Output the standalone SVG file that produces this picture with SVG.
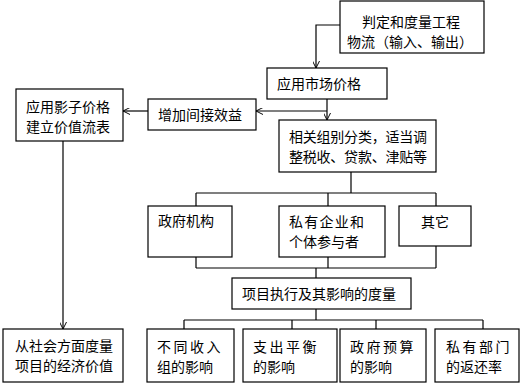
<svg xmlns="http://www.w3.org/2000/svg" width="525" height="387" viewBox="0 0 525 387">
<style>
.box{fill:#fff;stroke:#000;stroke-width:1.2}
.t{font-family:"Noto Sans CJK SC","Liberation Sans",sans-serif;font-size:14px;fill:#000}
.sp{letter-spacing:2.5px}
.ln{fill:none;stroke:#000;stroke-width:1.2}
</style>
<defs>
<marker id="arr" viewBox="0 0 10 10" refX="10" refY="5" markerWidth="7" markerHeight="7" markerUnits="userSpaceOnUse" orient="auto">
<path d="M0,0 L10,5 L0,10" fill="none" stroke="#000" stroke-width="1.4"/>
</marker>
</defs>
<rect width="525" height="387" fill="#fff"/>
<g id="connectors" class="ln">
<path d="M340,25 H316 V68" marker-end="url(#arr)"/>
<path d="M327,99 V120" marker-end="url(#arr)"/>
<path d="M327,111 H256" marker-end="url(#arr)"/>
<path d="M148,111 H123" marker-end="url(#arr)"/>
<path d="M63,141 V329" marker-end="url(#arr)"/>
<path d="M351,172 V193 M196,193 H436 M196,193 V206 M328,193 V206 M436,193 V206"/>
<path d="M196,257 V268 M328,257 V268 M436,246 V268 M196,268 H436 M316,268 V278"/>
<path d="M316,309 V320 M184,320 H483 M184,320 V329 M292,320 V329 M376,320 V329 M483,320 V329"/>
</g>
<g id="n1"><rect class="box" x="340" y="1" width="144" height="52"/>
<text class="t" x="362" y="27">判定和度量工程</text>
<text class="t" x="347" y="47">物流（输入、输出）</text></g>
<g id="n2"><rect class="box" x="267" y="68" width="120" height="31"/>
<text class="t" x="277" y="89">应用市场价格</text></g>
<g id="n3"><rect class="box" x="148" y="99" width="108" height="31"/>
<text class="t" x="158" y="120">增加间接效益</text></g>
<g id="n4"><rect class="box" x="16" y="89" width="107" height="52"/>
<text class="t" x="26" y="112">应用影子价格</text>
<text class="t" x="26" y="132">建立价值流表</text></g>
<g id="n5"><rect class="box" x="279" y="120" width="157" height="52"/>
<text class="t" x="289" y="142" textLength="138">相关组别分类，适当调</text>
<text class="t" x="289" y="162" textLength="138">整税收、贷款、津贴等</text></g>
<g id="n6"><rect class="box" x="148" y="206" width="84" height="51"/>
<text class="t" x="158" y="226">政府机构</text></g>
<g id="n7"><rect class="box" x="279" y="206" width="106" height="51"/>
<text class="t" x="289" y="227" textLength="75">私有企业和</text>
<text class="t" x="289" y="247">个体参与者</text></g>
<g id="n8"><rect class="box" x="399" y="206" width="72" height="40"/>
<text class="t" x="421" y="227">其它</text></g>
<g id="n9"><rect class="box" x="232" y="278" width="179" height="31"/>
<text class="t" x="242" y="299">项目执行及其影响的度量</text></g>
<g id="n10"><rect class="box" x="3" y="329" width="120" height="53"/>
<text class="t" x="15" y="351">从社会方面度量</text>
<text class="t" x="15" y="371">项目的经济价值</text></g>
<g id="n11"><rect class="box" x="147" y="329" width="87" height="53"/>
<text class="t sp" x="157" y="352">不同收入</text>
<text class="t" x="157" y="372">组的影响</text></g>
<g id="n12"><rect class="box" x="243" y="329" width="94" height="53"/>
<text class="t sp" x="253" y="352">支出平衡</text>
<text class="t" x="253" y="372">的影响</text></g>
<g id="n13"><rect class="box" x="340" y="329" width="86" height="53"/>
<text class="t sp" x="350" y="352">政府预算</text>
<text class="t" x="350" y="372">的影响</text></g>
<g id="n14"><rect class="box" x="435" y="329" width="84" height="53"/>
<text class="t sp" x="446" y="352">私有部门</text>
<text class="t" x="446" y="372">的返还率</text></g>
</svg>
